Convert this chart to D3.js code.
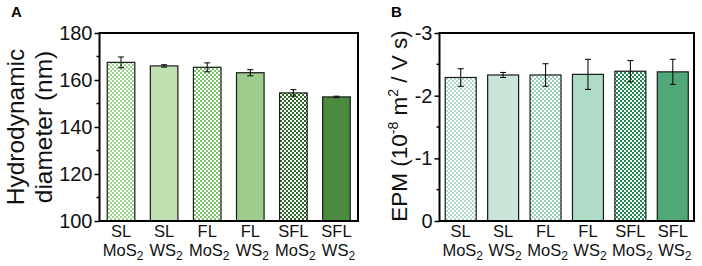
<!DOCTYPE html>
<html>
<head>
<meta charset="utf-8">
<script src="https://cdn.jsdelivr.net/npm/d3@7"></script>
<style>
  html, body { margin: 0; padding: 0; background: #fff; }
  svg { display: block; font-family: Arial, "Liberation Sans", sans-serif; }
</style>
</head>
<body>
<svg id="chart" width="702" height="266"></svg>
<script>
// Daten
const layers    = ["SL", "SL", "FL", "FL", "SFL", "SFL"];
const materials = ["MoS", "WS", "MoS", "WS", "MoS", "WS"];

const diameter    = [167.5, 166.0, 165.4, 163.1, 154.5, 152.8];
const diameterErr = [2.3, 0.5, 1.9, 1.3, 1.4, 0.3];
const diamTicks   = [100, 120, 140, 160, 180];

const epm    = [-2.29, -2.33, -2.33, -2.34, -2.39, -2.38];
const epmErr = [0.14, 0.04, 0.18, 0.24, 0.17, 0.20];
const epmTicks = [0, -1, -2, -3];

// Füllungen: Karo-Muster oder voll
const fillsA = [
  { pat: true,  color: "#9ed58d" },
  { pat: false, color: "#bfe0b1" },
  { pat: true,  color: "#7cc56b" },
  { pat: false, color: "#9ecd8d" },
  { pat: true,  color: "#2c6a25" },
  { pat: false, color: "#4c8a3f" }
];
const fillsB = [
  { pat: true,  color: "#b3dccc" },
  { pat: false, color: "#c9e6d9" },
  { pat: true,  color: "#97d0b5" },
  { pat: false, color: "#aedcc6" },
  { pat: true,  color: "#1f8a4d" },
  { pat: false, color: "#50a878" }
];

const svg = d3.select("#chart");
const defs = svg.append("defs");

function makeFill(f, id) {
  if (!f.pat) return f.color;
  const p = defs.append("pattern")
    .attr("id", id)
    .attr("width", 4).attr("height", 4)
    .attr("patternUnits", "userSpaceOnUse");
  p.append("rect").attr("width", 4).attr("height", 4).attr("fill", "#fff");
  p.append("rect").attr("width", 2).attr("height", 2).attr("fill", f.color);
  p.append("rect").attr("x", 2).attr("y", 2).attr("width", 2).attr("height", 2).attr("fill", f.color);
  return `url(#${id})`;
}

function panel(opt) {
  const { left, right, top, bottom } = opt;
  const g = svg.append("g");

  const x = d3.scaleBand()
    .domain(d3.range(layers.length))
    .range([left, right])
    .paddingInner(opt.pad)
    .paddingOuter(opt.pad / 2);

  const y = d3.scaleLinear()
    .domain(opt.domain)
    .range([bottom, top]);

  // Balken
  g.selectAll("rect.bar")
    .data(opt.values)
    .join("rect")
    .attr("class", "bar")
    .attr("x", (d, i) => x(i))
    .attr("width", x.bandwidth())
    .attr("y", d => y(d))
    .attr("height", d => bottom - y(d))
    .attr("fill", (d, i) => makeFill(opt.fills[i], opt.id + i))
    .attr("stroke", "#1a1a1a")
    .attr("stroke-width", 1.2);

  // Fehlerbalken
  const eb = g.selectAll("g.err")
    .data(opt.values)
    .join("g")
    .attr("class", "err")
    .attr("stroke", "#111")
    .attr("stroke-width", 1.1);
  const cx = i => x(i) + x.bandwidth() / 2;
  eb.append("line")
    .attr("x1", (d, i) => cx(i)).attr("x2", (d, i) => cx(i))
    .attr("y1", (d, i) => y(d - opt.err[i]))
    .attr("y2", (d, i) => y(d + opt.err[i]));
  [1, -1].forEach(s => {
    eb.append("line")
      .attr("x1", (d, i) => cx(i) - 3).attr("x2", (d, i) => cx(i) + 3)
      .attr("y1", (d, i) => y(d + s * opt.err[i]))
      .attr("y2", (d, i) => y(d + s * opt.err[i]));
  });

  // Rahmen
  g.append("rect")
    .attr("x", left).attr("y", top)
    .attr("width", right - left).attr("height", bottom - top)
    .attr("fill", "none")
    .attr("stroke", "#000")
    .attr("stroke-width", 2);

  // Y-Achse
  const axis = d3.axisLeft(y)
    .tickValues(opt.ticks)
    .tickSize(5)
    .tickPadding(2)
    .tickFormat(d3.format("d"));
  const ag = g.append("g")
    .attr("transform", `translate(${left},0)`)
    .call(axis);
  ag.select(".domain").remove();
  ag.selectAll(".tick line").attr("stroke-width", 1.5);
  ag.selectAll(".tick text")
    .attr("font-size", 20)
    .attr("fill", "#111")
    .text(d => d3.format("d")(d).replace("−", "-"));

  // Nebenstriche
  g.append("g")
    .selectAll("line")
    .data(opt.minor)
    .join("line")
    .attr("x1", left - 3).attr("x2", left)
    .attr("y1", d => y(d)).attr("y2", d => y(d))
    .attr("stroke", "#000").attr("stroke-width", 1.5);

  // Kategorien
  const lab = g.append("g")
    .attr("font-size", 16.5)
    .attr("fill", "#111")
    .attr("text-anchor", "middle");
  lab.selectAll("text.l1")
    .data(layers)
    .join("text")
    .attr("class", "l1")
    .attr("x", (d, i) => cx(i))
    .attr("y", bottom + 16)
    .text(d => d);
  const t2 = lab.selectAll("text.l2")
    .data(materials)
    .join("text")
    .attr("class", "l2")
    .attr("x", (d, i) => cx(i) + 2)
    .attr("y", bottom + 35);
  t2.append("tspan").text(d => d);
  t2.append("tspan").attr("font-size", 12).attr("dy", 4).text("2");

  // Panel-Buchstabe
  g.append("text")
    .attr("x", opt.letterX).attr("y", 17)
    .attr("font-size", 15).attr("font-weight", "bold")
    .text(opt.letter);

  return g;
}

panel({
  id: "pA", left: 99.5, right: 358, top: 33, bottom: 221,
  pad: 0.36, domain: [100, 180], values: diameter, err: diameterErr,
  ticks: diamTicks, minor: [110, 130, 150, 170], fills: fillsA,
  letter: "A", letterX: 11
});

panel({
  id: "pB", left: 439.5, right: 694, top: 33, bottom: 221,
  pad: 0.27, domain: [0, -3], values: epm, err: epmErr,
  ticks: epmTicks, minor: [-0.5, -1.5, -2.5], fills: fillsB,
  letter: "B", letterX: 391
});

// Achsentitel
const titleA = svg.append("text")
  .attr("transform", "translate(0,127) rotate(-90)")
  .attr("text-anchor", "middle")
  .attr("font-size", 24.5)
  .attr("fill", "#111");
titleA.append("tspan").attr("x", 0).attr("y", 24).text("Hydrodynamic");
titleA.append("tspan").attr("x", 0).attr("y", 52).text("diameter (nm)");

const titleB = svg.append("text")
  .attr("transform", "translate(407,126) rotate(-90)")
  .attr("text-anchor", "middle")
  .attr("font-size", 22.5)
  .attr("fill", "#111");
titleB.append("tspan").text("EPM (10");
titleB.append("tspan").attr("font-size", 14).attr("dy", -9).text("-8");
titleB.append("tspan").attr("dy", 9).text(" m");
titleB.append("tspan").attr("font-size", 14).attr("dy", -9).text("2");
titleB.append("tspan").attr("dy", 9).text(" / V s)");
</script>
</body>
</html>
